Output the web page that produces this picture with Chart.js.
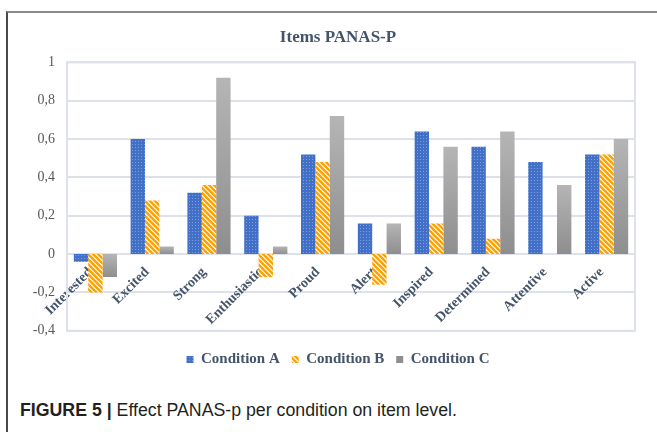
<!DOCTYPE html>
<html>
<head>
<meta charset="utf-8">
<script src="https://cdn.jsdelivr.net/npm/chart.js@4.4.1/dist/chart.umd.min.js"></script>
<style>
  html, body { margin: 0; padding: 0; background: #fff; }
  body { width: 657px; height: 432px; position: relative; overflow: hidden; }
  #frame { position: absolute; left: 6px; top: 11px; width: 700px; height: 500px;
           border-top: 2px solid #8a8a8a; border-left: 2px solid #4a4a4a; }
  #wrap { position: absolute; left: 8px; top: 14px; width: 649px; height: 370px; }
  #caption { position: absolute; left: 20px; top: 400px; color: #231f20; white-space: nowrap;
             font-family: "Liberation Sans Narrow", "Liberation Sans", sans-serif; font-size: 18px;
             transform: scaleX(0.985); transform-origin: left top; }
</style>
</head>
<body>
<div id="frame"></div>
<div id="wrap"><canvas id="panas-chart"></canvas></div>
<div id="caption"><b>FIGURE 5 |</b> Effect PANAS-p per condition on item level.</div>

<script>
const items = ['Interested', 'Excited', 'Strong', 'Enthusiastic', 'Proud',
               'Alert', 'Inspired', 'Determined', 'Attentive', 'Active'];
const conditionA = [-0.04, 0.60, 0.32, 0.20, 0.52, 0.16, 0.64, 0.56, 0.48, 0.52];
const conditionB = [-0.20, 0.28, 0.36, -0.12, 0.48, -0.16, 0.16, 0.08, 0, 0.52];
const conditionC = [-0.12, 0.04, 0.92, 0.04, 0.72, 0.16, 0.56, 0.64, 0.36, 0.60];
const yMin = -0.4;
const yMax = 1;
const yStep = 0.2;

const serif = 'Liberation Serif, Times New Roman, serif';
const slate = '#44546A';

// small tiles for the excel-like fills
function dotPattern() {
  const c = document.createElement('canvas');
  c.width = 3; c.height = 3;
  const g = c.getContext('2d');
  g.fillStyle = '#4170c6';
  g.fillRect(0, 0, 3, 3);
  g.fillStyle = '#7d9fe2';
  g.fillRect(1, 1, 1, 1);
  return g.createPattern(c, 'repeat');
}

function stripePattern() {
  const c = document.createElement('canvas');
  c.width = 5; c.height = 5;
  const g = c.getContext('2d');
  g.fillStyle = '#ffffff';
  g.fillRect(0, 0, 5, 5);
  g.strokeStyle = '#ffa200';
  g.lineWidth = 2.4;
  g.beginPath();
  g.moveTo(-1, -1); g.lineTo(6, 6);
  g.moveTo(-1, 4); g.lineTo(1, 6);
  g.moveTo(4, -1); g.lineTo(6, 1);
  g.stroke();
  return g.createPattern(c, 'repeat');
}

// grey bars fade from light (top) to darker (bottom)
function greyFill(ctx) {
  const chart = ctx.chart;
  if (!chart.chartArea || ctx.type !== 'data') return '#a5a5a5';
  const y = chart.scales.y;
  const p0 = y.getPixelForValue(0);
  const p1 = y.getPixelForValue(ctx.raw);
  const top = Math.min(p0, p1), bottom = Math.max(p0, p1);
  if (bottom - top < 1) return '#a5a5a5';
  const grad = chart.ctx.createLinearGradient(0, top, 0, bottom);
  grad.addColorStop(0, '#b5b5b5');
  grad.addColorStop(1, '#8e8e8e');
  return grad;
}

const plotFrame = {
  id: 'plotFrame',
  beforeDatasetsDraw(chart) {
    const {ctx, chartArea: a} = chart;
    ctx.save();
    ctx.strokeStyle = '#dde2ea';
    ctx.lineWidth = 2;
    ctx.strokeRect(a.left, a.top, a.right - a.left, a.bottom - a.top);
    ctx.restore();
  }
};

new Chart(document.getElementById('panas-chart'), {
  type: 'bar',
  data: {
    labels: items,
    datasets: [
      { label: 'Condition A', data: conditionA, backgroundColor: dotPattern(), borderWidth: 0 },
      { label: 'Condition B', data: conditionB, backgroundColor: stripePattern(), borderWidth: 0 },
      { label: 'Condition C', data: conditionC, backgroundColor: greyFill, borderWidth: 0 }
    ]
  },
  options: {
    responsive: true,
    maintainAspectRatio: false,
    animation: false,
    datasets: {
      bar: { categoryPercentage: 0.76, barPercentage: 1.0 }
    },
    layout: { padding: { left: 12, right: 1, top: 0, bottom: 7 } },
    plugins: {
      title: {
        display: true,
        text: 'Items PANAS-P',
        color: slate,
        font: { family: serif, size: 17, weight: 'bold' },
        padding: { top: 13, bottom: 15 }
      },
      legend: {
        position: 'bottom',
        title: { display: true, text: '', font: { size: 1 }, padding: { top: 8, bottom: 0 } },  // spacer
        labels: {
          boxWidth: 7,
          boxHeight: 7,
          padding: 12,
          color: slate,
          font: { family: serif, size: 15, weight: 'bold' }
        }
      },
      tooltip: { enabled: false }
    },
    scales: {
      x: {
        position: { y: 0 },  // labels hang from the zero line like in excel
        z: 1,                // labels over the bars
        grid: { display: false, drawTicks: false },
        border: { display: false },
        ticks: {
          autoSkip: false,
          minRotation: 45,
          maxRotation: 45,
          padding: 10,
          labelOffset: -5,
          color: slate,
          font: { family: serif, size: 14, weight: 'bold' }
        }
      },
      y: {
        min: yMin,
        max: yMax,
        afterFit(scale) { scale.width = 47; },
        grid: { color: '#dde2ea', lineWidth: 2, drawTicks: false },
        border: { display: false },
        ticks: {
          stepSize: yStep,
          padding: 12,
          color: '#595959',
          font: { family: serif, size: 14 },
          callback: v => String(Math.round(v * 10) / 10).replace('.', ',')  // decimal comma
        }
      },
      // empty right gutter so title and legend sit where excel put them
      gutter: {
        position: 'right',
        grid: { display: false, drawTicks: false },
        border: { display: false },
        ticks: { display: false },
        afterFit(scale) { scale.width = 21; }
      }
    }
  },
  plugins: [plotFrame]
});
</script>
</body>
</html>
